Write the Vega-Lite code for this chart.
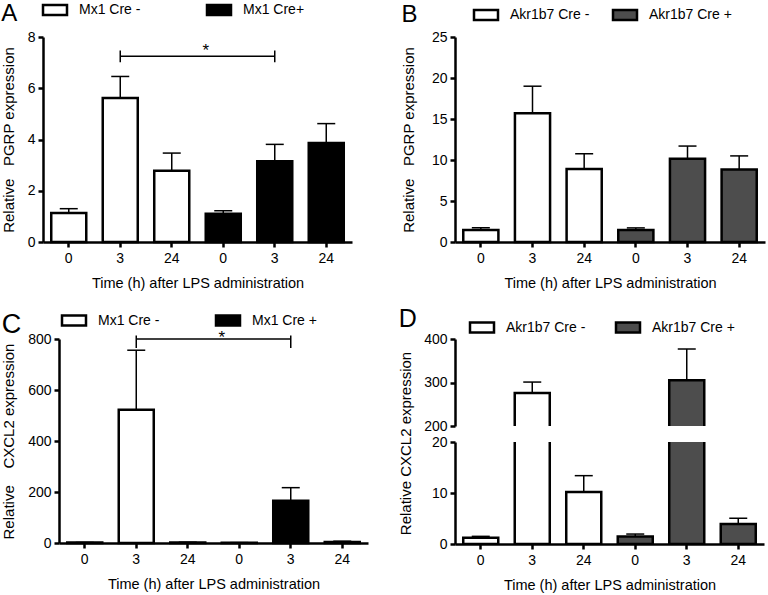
{
  "$schema": "https://vega.github.io/schema/vega-lite/v6.json",
  "padding": {"left": 0, "top": 2, "right": 2, "bottom": 2},
  "background": "white",
  "datasets": {
    "A": [
      {"x": "-|0", "grp": "Mx1 Cre -", "mean": 1.13, "err": 1.30},
      {"x": "-|3", "grp": "Mx1 Cre -", "mean": 5.62, "err": 6.46},
      {"x": "-|24", "grp": "Mx1 Cre -", "mean": 2.78, "err": 3.47},
      {"x": "+|0", "grp": "Mx1 Cre+", "mean": 1.10, "err": 1.22},
      {"x": "+|3", "grp": "Mx1 Cre+", "mean": 3.15, "err": 3.81},
      {"x": "+|24", "grp": "Mx1 Cre+", "mean": 3.86, "err": 4.62}
    ],
    "A_br": [{"x": "-|3", "x2": "+|3", "y": 7.25, "sx": "+|0", "sy": 7.25, "lab": "*"}],
    "A_end": [{"x": "-|3", "lo": 7.01, "hi": 7.47}, {"x": "+|3", "lo": 7.01, "hi": 7.47}],
    "B": [
      {"x": "-|0", "grp": "Akr1b7 Cre -", "mean": 1.45, "err": 1.75},
      {"x": "-|3", "grp": "Akr1b7 Cre -", "mean": 15.7, "err": 19.0},
      {"x": "-|24", "grp": "Akr1b7 Cre -", "mean": 8.9, "err": 10.75},
      {"x": "+|0", "grp": "Akr1b7 Cre +", "mean": 1.45, "err": 1.72},
      {"x": "+|3", "grp": "Akr1b7 Cre +", "mean": 10.15, "err": 11.7},
      {"x": "+|24", "grp": "Akr1b7 Cre +", "mean": 8.85, "err": 10.5}
    ],
    "C": [
      {"x": "-|0", "grp": "Mx1 Cre -", "mean": 1.5, "err": 2},
      {"x": "-|3", "grp": "Mx1 Cre -", "mean": 523, "err": 756},
      {"x": "-|24", "grp": "Mx1 Cre -", "mean": 2, "err": 3},
      {"x": "+|0", "grp": "Mx1 Cre +", "mean": 1, "err": 1.5},
      {"x": "+|3", "grp": "Mx1 Cre +", "mean": 166, "err": 217},
      {"x": "+|24", "grp": "Mx1 Cre +", "mean": 4, "err": 7}
    ],
    "C_br": [{"x": "-|3", "x2": "+|3", "y": 800, "sx": "+|0", "sy": 784, "lab": "*"}],
    "C_end": [{"x": "-|3", "lo": 765, "hi": 814}, {"x": "+|3", "lo": 765, "hi": 814}],
    "D": [
      {"x": "-|0", "grp": "Akr1b7 Cre -", "mean": 1.25, "err": 1.5},
      {"x": "-|3", "grp": "Akr1b7 Cre -", "mean": 276, "err": 301},
      {"x": "-|24", "grp": "Akr1b7 Cre -", "mean": 10.2, "err": 13.4},
      {"x": "+|0", "grp": "Akr1b7 Cre +", "mean": 1.45, "err": 1.95},
      {"x": "+|3", "grp": "Akr1b7 Cre +", "mean": 305, "err": 377},
      {"x": "+|24", "grp": "Akr1b7 Cre +", "mean": 3.9, "err": 5.05}
    ],
    "none": [{"k": 1}]
  },
  "config": {
    "font": "Liberation Sans",
    "view": {"stroke": null},
    "axis": {"domainColor": "black", "domainWidth": 2.5, "tickColor": "black", "tickWidth": 2.5, "tickSize": 5, "labelFontSize": 14, "labelColor": "black", "labelFont": "Liberation Sans", "titleFont": "Liberation Sans", "titleFontSize": 14.5, "titleFontWeight": "normal", "titleColor": "black", "grid": false, "labelPadding": 3},
    "axisX": {"labelAngle": 0, "titlePadding": 11, "labelPadding": 4},
    "axisY": {"titlePadding": 12, "titleFontSize": 15},
    "legend": {"orient": "none", "direction": "horizontal", "title": null, "symbolType": "M-2.4,-1H2.4V1H-2.4Z", "symbolSize": 100, "symbolStrokeWidth": 2.5, "symbolStrokeColor": "black", "symbolOpacity": 1, "labelFontSize": 14, "labelFont": "Liberation Sans", "labelColor": "black", "labelOffset": 17},
    "title": {"fontSize": 24, "fontWeight": "normal", "anchor": "start", "frame": "bounds", "color": "black", "font": "Liberation Sans"},
    "tick": {"opacity": 1},
    "bar": {"opacity": 1}
  },
  "resolve": {"scale": {"x": "independent", "y": "independent", "fill": "independent"}, "legend": {"fill": "independent"}},
  "spacing": 16,
  "vconcat": [
    {
      "hconcat": [
        {
          "hconcat": [
            {"width": 1, "height": 1, "data": {"name": "none"}, "mark": {"type": "rect", "opacity": 0}, "encoding": {}},
            {
              "width": 309, "height": 205,
              "title": {"text": "A", "dy": 27, "dx": 0},
              "layer": [
                {"data": {"name": "A"}, "mark": {"type": "bar", "stroke": "black", "strokeWidth": 2.5},
                 "encoding": {
                   "x": {"field": "x", "type": "nominal", "title": "Time (h) after LPS administration", "scale": {"domain": ["-|0", "-|3", "-|24", "+|0", "+|3", "+|24"], "paddingInner": 0.32, "paddingOuter": 0.16}, "axis": {"labelExpr": "split(datum.value, '|')[1]"}},
                   "y": {"field": "mean", "type": "quantitative", "title": "Relative\u00a0\u00a0 PGRP expression", "scale": {"domain": [0, 8], "nice": false}, "axis": {"values": [0, 2, 4, 6, 8], "titlePadding": 11}},
                   "fill": {"field": "grp", "type": "nominal", "scale": {"domain": ["Mx1 Cre -", "Mx1 Cre+"], "range": ["white", "black"]}, "legend": {"legendX": 5, "legendY": -34, "columnPadding": 61}}
                 }},
                {"data": {"name": "A"}, "mark": {"type": "rule", "strokeWidth": 1.5, "color": "black"},
                 "encoding": {"x": {"field": "x", "type": "nominal", "title": "Time (h) after LPS administration"}, "y": {"field": "mean", "type": "quantitative", "title": "Relative\u00a0\u00a0 PGRP expression"}, "y2": {"field": "err"}}},
                {"data": {"name": "A"}, "mark": {"type": "tick", "size": 18, "thickness": 1.5, "color": "black"},
                 "encoding": {"x": {"field": "x", "type": "nominal", "title": "Time (h) after LPS administration"}, "y": {"field": "err", "type": "quantitative", "title": "Relative\u00a0\u00a0 PGRP expression"}}},
                {"data": {"name": "A_br"}, "mark": {"type": "rule", "strokeWidth": 1.5, "color": "black"},
                 "encoding": {"x": {"field": "x", "type": "nominal", "title": "Time (h) after LPS administration"}, "x2": {"field": "x2"}, "y": {"field": "y", "type": "quantitative", "title": "Relative\u00a0\u00a0 PGRP expression"}}},
                {"data": {"name": "A_end"}, "mark": {"type": "rule", "strokeWidth": 1.5, "color": "black"},
                 "encoding": {"x": {"field": "x", "type": "nominal", "title": "Time (h) after LPS administration"}, "y": {"field": "lo", "type": "quantitative", "title": "Relative\u00a0\u00a0 PGRP expression"}, "y2": {"field": "hi"}}},
                {"data": {"name": "A_br"}, "mark": {"type": "text", "fontSize": 17, "baseline": "alphabetic", "color": "black"},
                 "encoding": {"x": {"field": "sx", "type": "nominal", "bandPosition": 0, "title": "Time (h) after LPS administration"}, "y": {"field": "sy", "type": "quantitative", "title": "Relative\u00a0\u00a0 PGRP expression"}, "text": {"field": "lab"}}}
              ]
            }
          ],
          "spacing": 0,
          "resolve": {"scale": {"x": "independent", "y": "independent", "fill": "independent"}, "legend": {"fill": "independent"}}
        },
        {
          "width": 310, "height": 205,
          "title": {"text": "B", "dy": 23},
          "layer": [
            {"data": {"name": "B"}, "mark": {"type": "bar", "stroke": "black", "strokeWidth": 2.5},
             "encoding": {
               "x": {"field": "x", "type": "nominal", "title": "Time (h) after LPS administration", "scale": {"domain": ["-|0", "-|3", "-|24", "+|0", "+|3", "+|24"], "paddingInner": 0.32, "paddingOuter": 0.16}, "axis": {"labelExpr": "split(datum.value, '|')[1]"}},
               "y": {"field": "mean", "type": "quantitative", "title": "Relative\u00a0\u00a0 PGRP expression", "scale": {"domain": [0, 25], "nice": false}, "axis": {"values": [0, 5, 10, 15, 20, 25], "titlePadding": 15}},
               "fill": {"field": "grp", "type": "nominal", "scale": {"domain": ["Akr1b7 Cre -", "Akr1b7 Cre +"], "range": ["white", "#4d4d4d"]}, "legend": {"legendX": 24, "legendY": -29, "columnPadding": 18}}
             }},
            {"data": {"name": "B"}, "mark": {"type": "rule", "strokeWidth": 1.5, "color": "black"},
             "encoding": {"x": {"field": "x", "type": "nominal", "title": "Time (h) after LPS administration"}, "y": {"field": "mean", "type": "quantitative", "title": "Relative\u00a0\u00a0 PGRP expression"}, "y2": {"field": "err"}}},
            {"data": {"name": "B"}, "mark": {"type": "tick", "size": 18, "thickness": 1.5, "color": "black"},
             "encoding": {"x": {"field": "x", "type": "nominal", "title": "Time (h) after LPS administration"}, "y": {"field": "err", "type": "quantitative", "title": "Relative\u00a0\u00a0 PGRP expression"}}}
          ]
        }
      ],
      "spacing": 49,
      "resolve": {"scale": {"x": "independent", "y": "independent", "fill": "independent"}, "legend": {"fill": "independent"}}
    },
    {
      "hconcat": [
        {
          "hconcat": [
            {"width": 1, "height": 1, "data": {"name": "none"}, "mark": {"type": "rect", "opacity": 0}, "encoding": {}},
            {
              "width": 309, "height": 204,
              "title": {"text": "C", "fontSize": 27, "dy": 29.5},
              "layer": [
                {"data": {"name": "C"}, "mark": {"type": "bar", "stroke": "black", "strokeWidth": 2.5},
                 "encoding": {
                   "x": {"field": "x", "type": "nominal", "title": "Time (h) after LPS administration", "scale": {"domain": ["-|0", "-|3", "-|24", "+|0", "+|3", "+|24"], "paddingInner": 0.32, "paddingOuter": 0.16}, "axis": {"labelExpr": "split(datum.value, '|')[1]"}},
                   "y": {"field": "mean", "type": "quantitative", "title": "Relative\u00a0\u00a0\u00a0 CXCL2 expression", "scale": {"domain": [0, 800], "nice": false}, "axis": {"values": [0, 200, 400, 600, 800], "titlePadding": 11}},
                   "fill": {"field": "grp", "type": "nominal", "scale": {"domain": ["Mx1 Cre -", "Mx1 Cre +"], "range": ["white", "black"]}, "legend": {"legendX": 8, "legendY": -25.5, "columnPadding": 51}}
                 }},
                {"data": {"name": "C"}, "mark": {"type": "rule", "strokeWidth": 1.5, "color": "black"},
                 "encoding": {"x": {"field": "x", "type": "nominal", "title": "Time (h) after LPS administration"}, "y": {"field": "mean", "type": "quantitative", "title": "Relative\u00a0\u00a0\u00a0 CXCL2 expression"}, "y2": {"field": "err"}}},
                {"data": {"name": "C"}, "mark": {"type": "tick", "size": 18, "thickness": 1.5, "color": "black"},
                 "encoding": {"x": {"field": "x", "type": "nominal", "title": "Time (h) after LPS administration"}, "y": {"field": "err", "type": "quantitative", "title": "Relative\u00a0\u00a0\u00a0 CXCL2 expression"}}},
                {"data": {"name": "C_br"}, "mark": {"type": "rule", "strokeWidth": 1.5, "color": "black"},
                 "encoding": {"x": {"field": "x", "type": "nominal", "title": "Time (h) after LPS administration"}, "x2": {"field": "x2"}, "y": {"field": "y", "type": "quantitative", "title": "Relative\u00a0\u00a0\u00a0 CXCL2 expression"}}},
                {"data": {"name": "C_end"}, "mark": {"type": "rule", "strokeWidth": 1.5, "color": "black"},
                 "encoding": {"x": {"field": "x", "type": "nominal", "title": "Time (h) after LPS administration"}, "y": {"field": "lo", "type": "quantitative", "title": "Relative\u00a0\u00a0\u00a0 CXCL2 expression"}, "y2": {"field": "hi"}}},
                {"data": {"name": "C_br"}, "mark": {"type": "text", "fontSize": 17, "baseline": "alphabetic", "color": "black"},
                 "encoding": {"x": {"field": "sx", "type": "nominal", "bandPosition": 0, "title": "Time (h) after LPS administration"}, "y": {"field": "sy", "type": "quantitative", "title": "Relative\u00a0\u00a0\u00a0 CXCL2 expression"}, "text": {"field": "lab"}}}
              ]
            }
          ],
          "spacing": 0,
          "resolve": {"scale": {"x": "independent", "y": "independent", "fill": "independent"}, "legend": {"fill": "independent"}}
        },
        {
          "vconcat": [
            {
              "width": 309, "height": 87,
              "title": {"text": "D", "fontSize": 25, "dy": 15},
              "layer": [
                {"data": {"name": "D"}, "mark": {"type": "bar", "stroke": "black", "strokeWidth": 2.5, "clip": true},
                 "encoding": {
                   "x": {"field": "x", "type": "nominal", "scale": {"domain": ["-|0", "-|3", "-|24", "+|0", "+|3", "+|24"], "paddingInner": 0.32, "paddingOuter": 0.16}, "axis": null},
                   "y": {"field": "mean", "type": "quantitative", "title": "Relative CXCL2 expression", "scale": {"domain": [200, 400], "nice": false, "zero": false}, "axis": {"values": [200, 300, 400], "titleY": 104, "titlePadding": 10}},
                   "fill": {"field": "grp", "type": "nominal", "scale": {"domain": ["Akr1b7 Cre -", "Akr1b7 Cre +"], "range": ["white", "#4d4d4d"]}, "legend": {"legendX": 20, "legendY": -18.5, "columnPadding": 25}}
                 }},
                {"data": {"name": "D"}, "mark": {"type": "rule", "strokeWidth": 1.5, "color": "black", "clip": true},
                 "encoding": {"x": {"field": "x", "type": "nominal", "axis": null}, "y": {"field": "mean", "type": "quantitative", "title": "Relative CXCL2 expression"}, "y2": {"field": "err"}}},
                {"data": {"name": "D"}, "mark": {"type": "tick", "size": 18, "thickness": 1.5, "color": "black", "clip": true},
                 "encoding": {"x": {"field": "x", "type": "nominal", "axis": null}, "y": {"field": "err", "type": "quantitative", "title": "Relative CXCL2 expression"}}}
              ]
            },
            {
              "width": 309, "height": 102,
              "layer": [
                {"data": {"name": "D"}, "mark": {"type": "bar", "stroke": "black", "strokeWidth": 2.5, "clip": true},
                 "encoding": {
                   "x": {"field": "x", "type": "nominal", "title": "Time (h) after LPS administration", "scale": {"domain": ["-|0", "-|3", "-|24", "+|0", "+|3", "+|24"], "paddingInner": 0.32, "paddingOuter": 0.16}, "axis": {"labelExpr": "split(datum.value, '|')[1]"}},
                   "y": {"field": "mean", "type": "quantitative", "title": "", "scale": {"domain": [0, 20], "nice": false}, "axis": {"values": [0, 10, 20]}},
                   "fill": {"field": "grp", "type": "nominal", "scale": {"domain": ["Akr1b7 Cre -", "Akr1b7 Cre +"], "range": ["white", "#4d4d4d"]}, "legend": null}
                 }},
                {"data": {"name": "D"}, "mark": {"type": "rule", "strokeWidth": 1.5, "color": "black", "clip": true},
                 "encoding": {"x": {"field": "x", "type": "nominal", "title": "Time (h) after LPS administration"}, "y": {"field": "mean", "type": "quantitative", "title": ""}, "y2": {"field": "err"}}},
                {"data": {"name": "D"}, "mark": {"type": "tick", "size": 18, "thickness": 1.5, "color": "black", "clip": true},
                 "encoding": {"x": {"field": "x", "type": "nominal", "title": "Time (h) after LPS administration"}, "y": {"field": "err", "type": "quantitative", "title": ""}}}
              ]
            }
          ],
          "spacing": 16,
          "bounds": "flush",
          "resolve": {"scale": {"x": "independent", "y": "independent", "fill": "independent"}, "legend": {"fill": "independent"}}
        }
      ],
      "spacing": 30,
      "resolve": {"scale": {"x": "independent", "y": "independent", "fill": "independent"}, "legend": {"fill": "independent"}}
    }
  ]
}
